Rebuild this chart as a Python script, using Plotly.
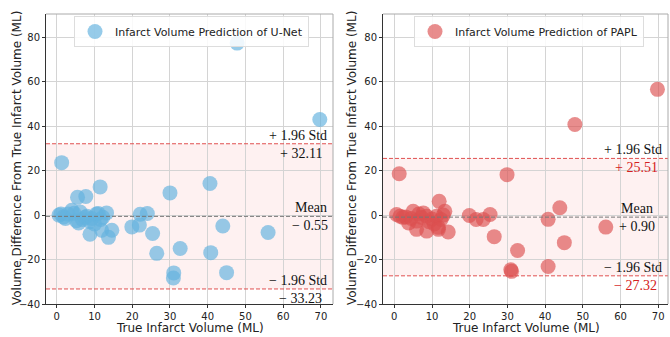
import plotly.graph_objects as go

# ---- data ----
unet_x = [47.8, 69.7, 1.3, 11.5, 5.5, 7.7, 30.0, 40.6, 0.6, 1.1, 1.8, 2.3, 3.0, 4.0, 4.6, 5.2,
          5.8, 6.2, 6.8, 7.5, 8.0, 8.8, 9.3, 10.0, 10.5, 11.0, 11.6, 12.2, 13.2, 8.8, 11.9, 14.6,
          13.7, 19.9, 21.9, 22.1, 24.0, 25.4, 26.5, 32.7, 31.0, 30.9, 44.0, 40.8, 45.0, 56.0]
unet_y = [77.4, 43.0, 23.6, 12.7, 8.0, 8.4, 10.0, 14.2, 0.0, 0.5, -0.8, -1.5, 0.5, 2.2, 0.8, -2.5,
          -3.5, 1.4, -2.0, -1.0, -0.5, -3.0, -1.5, -4.0, 0.5, 0.7, -2.0, -1.0, 1.0, -8.6, -6.8, -6.8,
          -10.0, -5.3, -4.5, 0.4, 0.7, -8.3, -17.2, -15.0, -26.0, -28.3, -4.9, -16.9, -25.9, -7.8]

papl_x = [69.8, 47.9, 1.3, 29.9, 43.9, 40.8, 56.1, 45.1, 32.7, 40.8, 30.9, 31.1, 26.5, 25.4, 23.6,
          21.7, 19.9, 14.3, 11.9, 13.4, 0.6, 1.5, 2.3, 3.0, 3.8, 4.5, 5.0, 5.9, 6.5, 7.2, 7.7, 8.6,
          9.2, 10.0, 10.6, 11.2, 11.7, 12.4, 13.0, 5.9, 8.6, 11.7]
papl_y = [56.6, 40.8, 18.6, 18.2, 3.3, -1.9, -5.4, -12.4, -15.9, -23.1, -24.6, -25.3, -9.7, 0.3, -2.0,
          -2.0, -0.2, -7.6, 6.2, 1.7, 0.3, -0.5, -1.0, -0.8, -3.5, -1.5, 1.7, -2.7, 0.5, -1.0, 1.0, -0.5,
          -3.0, -1.8, -4.0, -0.5, -5.5, -2.0, 0.0, -6.4, -7.2, -6.4]

unet_stats = {"mean": -0.56, "upper": 32.11, "lower": -33.23}
papl_stats = {"mean": -0.905, "upper": 25.51, "lower": -27.32}
unet_labels = ["+ 1.96 Std", "+ 32.11", "Mean", "\u2212 0.55", "\u2212 1.96 Std", "\u2212 33.23"]
papl_labels = ["+ 1.96 Std", "+ 25.51", "Mean", "+ 0.90", "\u2212 1.96 Std", "\u2212 27.32"]

x_title = "True Infarct Volume (ML)"
y_title = "Volume Difference From True Infarct Volume (ML)"
x_ticks = [0, 10, 20, 30, 40, 50, 60, 70]
y_ticks = [-40, -20, 0, 20, 40, 60, 80]

W, H = 670, 337
ML, MR, MT, MB = 46, 2, 14, 33
PW = W - ML - MR
PH = H - MT - MB
dom1 = [0, (333 - ML) / PW]
dom2 = [(383 - ML) / PW, 1]

fig = go.Figure()
fig.add_trace(go.Scatter(x=unet_x, y=unet_y, mode="markers", name="Infarct Volume Prediction of U-Net",
                         marker=dict(size=15, color="rgba(100,178,222,0.68)", line=dict(width=0)),
                         xaxis="x", yaxis="y", legend="legend"))
fig.add_trace(go.Scatter(x=papl_x, y=papl_y, mode="markers", name="Infarct Volume Prediction of PAPL",
                         marker=dict(size=15, color="rgba(220,80,80,0.65)", line=dict(width=0)),
                         xaxis="x2", yaxis="y2", legend="legend2"))

sans = "DejaVu Sans"
serif = "Liberation Serif"
axis_common = dict(showgrid=True, gridcolor="#d4d4d4", gridwidth=1, zeroline=False,
                   ticks="outside", ticklen=3, tickcolor="#333", showline=True, linecolor="#333",
                   linewidth=1, tickfont=dict(family=sans, size=10, color="#222"))
title_font = dict(family=sans, size=12, color="#222")

fig.update_layout(
    width=W, height=H, margin=dict(l=ML, r=MR, t=MT, b=MB),
    paper_bgcolor="white", plot_bgcolor="white",
    xaxis=dict(domain=dom1, range=[-2.85, 73.2], tickvals=x_ticks, anchor="y", **axis_common),
    yaxis=dict(domain=[0, 1], range=[-40, 90.5], tickvals=y_ticks, anchor="x", **axis_common),
    xaxis2=dict(domain=dom2, range=[-3.0, 72.6], tickvals=x_ticks, anchor="y2", **axis_common),
    yaxis2=dict(domain=[0, 1], range=[-40, 90.5], tickvals=y_ticks, anchor="x2", **axis_common),
    legend=dict(x=(74 - ML) / PW, y=1 - (16 - MT) / PH, xanchor="left", yanchor="top",
                bgcolor="rgba(255,255,255,0.85)", bordercolor="#dddddd", borderwidth=1,
                font=dict(family=sans, size=11, color="#222"), tracegroupgap=0),
    legend2=dict(x=(414 - ML) / PW, y=1 - (16 - MT) / PH, xanchor="left", yanchor="top",
                 bgcolor="rgba(255,255,255,0.85)", bordercolor="#dddddd", borderwidth=1,
                 font=dict(family=sans, size=11, color="#222"), tracegroupgap=0),
    showlegend=True,
)

shapes = []
annotations = []
panels = [("x", "y", unet_stats, unet_labels, "#111", [0.985, 0.967, 0.985, 0.989, 0.985, 0.967], 17),
          ("x2", "y2", papl_stats, papl_labels, "#d42020", [0.985, 0.971, 0.955, 0.962, 0.985, 0.967], 352)]
for xr, yr, st, labels, numcol, xs, ytx in panels:
    shapes.append(dict(type="rect", xref=f"{xr} domain", yref=yr, x0=0, x1=1, y0=st["lower"], y1=st["upper"],
                       fillcolor="rgba(240,90,90,0.085)", line=dict(width=0), layer="below"))
    for key, col in [("upper", "#e05050"), ("lower", "#e05050"), ("mean", "#777777")]:
        shapes.append(dict(type="line", xref=f"{xr} domain", yref=yr, x0=0, x1=1, y0=st[key], y1=st[key],
                           line=dict(color=col, width=1, dash="4px,2px"), layer="above"))
    shapes.append(dict(type="line", xref=f"{xr} domain", yref=f"{yr} domain", x0=0, x1=1, y0=1, y1=1,
                       line=dict(color="#aaaaaa", width=1)))
    shapes.append(dict(type="line", xref=f"{xr} domain", yref=f"{yr} domain", x0=1, x1=1, y0=0, y1=1,
                       line=dict(color="#aaaaaa", width=1)))
    pos = [(st["upper"], "bottom", "#111"), (st["upper"], "top", numcol),
           (st["mean"], "bottom", "#111"), (st["mean"], "top", "#111"),
           (st["lower"], "bottom", "#111"), (st["lower"], "top", numcol)]
    for (yv, anc, col), txt, xv in zip(pos, labels, xs):
        annotations.append(dict(xref=f"{xr} domain", yref=yr, x=xv, y=yv, text=txt, showarrow=False,
                                xanchor="right", yanchor=anc, yshift=(-1 if anc == "bottom" else 0),
                                font=dict(family=serif, size=14, color=col)))
    # axis titles
    annotations.append(dict(xref=f"{xr} domain", yref="paper", x=0.5, y=-(328 - (H - MB)) / PH,
                            text=x_title, showarrow=False, xanchor="center", yanchor="middle",
                            font=title_font))
    annotations.append(dict(xref="paper", yref="paper", x=(ytx - ML) / PW, y=1 - (158 - MT) / PH,
                            text=y_title, showarrow=False, textangle=-90, xanchor="center",
                            yanchor="middle", font=title_font))

fig.update_layout(shapes=shapes, annotations=annotations)
fig.write_html("out.html", config={"displayModeBar": False},
               post_script="document.body.style.margin='0px';document.body.style.padding='0px';")
